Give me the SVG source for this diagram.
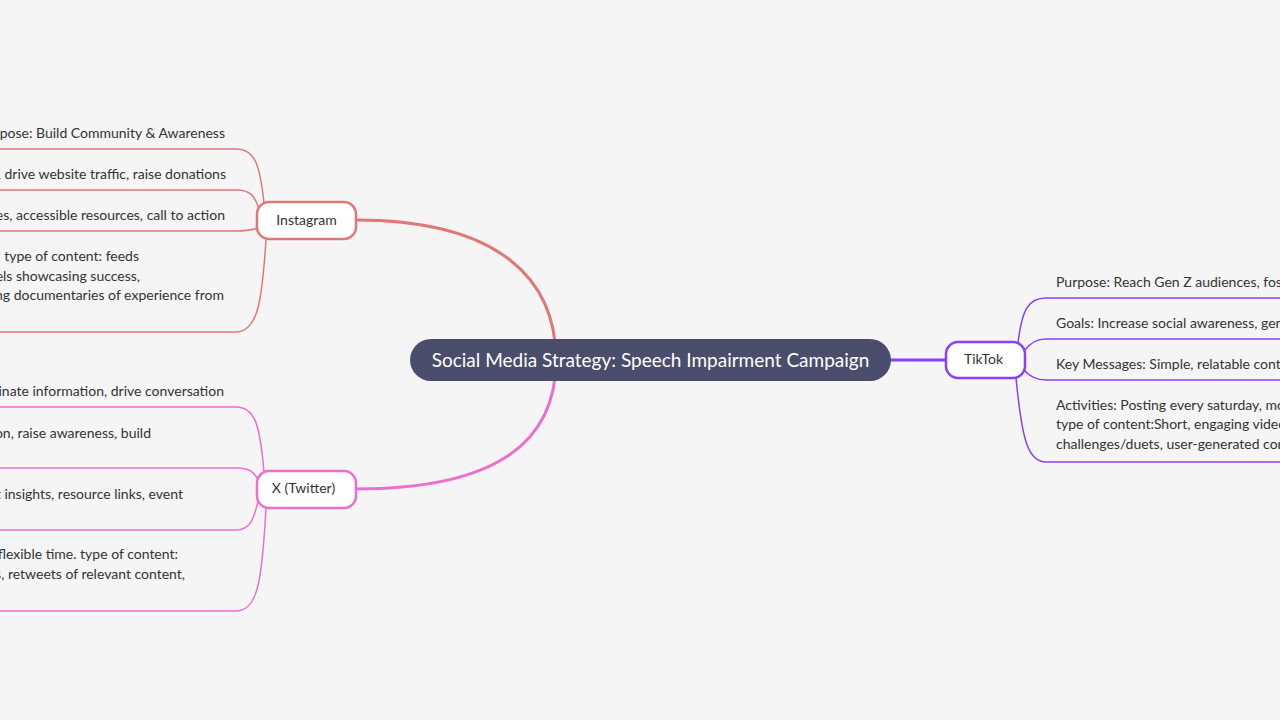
<svg xmlns="http://www.w3.org/2000/svg" width="1280" height="720" viewBox="0 0 1280 720">
<style>
.t{font-family:"Source Sans Pro","Lato","Liberation Sans",sans-serif;font-size:14px;fill:#333}
.e{text-anchor:end}
.n{fill:#fff;stroke-width:2.5}
.l{fill:none;stroke-width:1.5}
</style>
<rect width="1280" height="720" fill="#f5f5f5"/>
<g id="connectors">
<path d="M556,360 C556,280 500,220 356,220" fill="none" stroke="#e07878" stroke-width="3"/>
<path d="M556,360 C556,440 500,489 356,489" fill="none" stroke="#ec6fcf" stroke-width="3"/>
<path d="M891,360 L946,360" fill="none" stroke="#8a3ffc" stroke-width="3"/>
<g stroke="#e07878" class="l">
<path class="l" d="M264,203 C260,165 255,149 236,149 L0,149"/>
<path class="l" d="M260,212 C255,195 250,190 236,190 L0,190"/>
<path class="l" d="M258,228 C252,230 248,231 236,231 L0,231"/>
<path class="l" d="M266,240 C262,300 258,332 236,332 L0,332"/>
</g>
<g stroke="#ec6fcf" class="l">
<path class="l" d="M264,472 C260,425 255,407 236,407 L0,407"/>
<path class="l" d="M259,481 C254,472 250,468 236,468 L0,468"/>
<path class="l" d="M259,497 C254,520 250,530 236,530 L0,530"/>
<path class="l" d="M266,508 C262,580 258,611 236,611 L0,611"/>
</g>
<g stroke="#8a3ffc" class="l">
<path class="l" d="M1018,343 C1022,310 1028,298 1046,298 L1280,298"/>
<path class="l" d="M1024,351 C1030,343 1036,339 1046,339 L1280,339"/>
<path class="l" d="M1024,370 C1030,377 1036,380 1046,380 L1280,380"/>
<path class="l" d="M1016,378 C1022,440 1028,462 1046,462 L1280,462"/>
</g>
</g>
<g id="center">
<rect x="410" y="339" width="481" height="42" rx="21" fill="#4a4d6b"/>
<text x="650.5" y="367" text-anchor="middle" font-family="Source Sans Pro, Lato, Liberation Sans, sans-serif" font-size="19" fill="#fff">Social Media Strategy: Speech Impairment Campaign</text>
</g>
<g id="instagram">
<rect class="n" x="257" y="202" width="99" height="37" rx="12" stroke="#e07878"/>
<text class="t" x="306.5" y="225" text-anchor="middle">Instagram</text>
<text class="t e" x="225" y="138">urpose: Build Community &amp; Awareness</text>
<text class="t e" x="226" y="179">s, drive website traffic, raise donations</text>
<text class="t e" x="225" y="220">es, accessible resources, call to action</text>
<text class="t e" x="139" y="261">n. type of content: feeds</text>
<text class="t e" x="140" y="281">els showcasing success,</text>
<text class="t e" x="224" y="300">ng documentaries of experience from</text>
</g>
<g id="twitter">
<rect class="n" x="257" y="471" width="99" height="37" rx="12" stroke="#ec6fcf"/>
<text class="t" x="303.5" y="493" text-anchor="middle">X (Twitter)</text>
<text class="t e" x="224" y="396">inate information, drive conversation</text>
<text class="t e" x="151" y="438">on, raise awareness, build</text>
<text class="t e" x="183" y="499">t insights, resource links, event</text>
<text class="t e" x="178" y="559">flexible time. type of content:</text>
<text class="t e" x="185" y="579">s, retweets of relevant content,</text>
</g>
<g id="tiktok">
<rect class="n" x="946" y="342" width="79" height="36" rx="12" stroke="#8a3ffc"/>
<text class="t" x="983.5" y="364" text-anchor="middle">TikTok</text>
<text class="t" x="1056" y="287">Purpose: Reach Gen Z audiences, foster</text>
<text class="t" x="1056" y="328">Goals: Increase social awareness, generate</text>
<text class="t" x="1056" y="369">Key Messages: Simple, relatable content</text>
<text class="t" x="1056" y="410">Activities: Posting every saturday, mon</text>
<text class="t" x="1056" y="429">type of  content:Short, engaging videos</text>
<text class="t" x="1056" y="449">challenges/duets, user-generated content</text>
</g>
</svg>
